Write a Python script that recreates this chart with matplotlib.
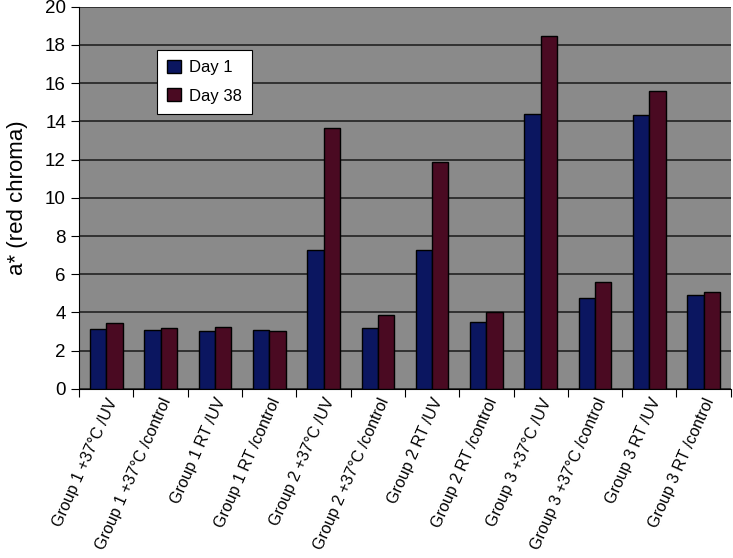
import matplotlib.pyplot as plt
import numpy as np
from matplotlib.ticker import MultipleLocator

# data
categories = ['Group 1 +37\u00b0C /UV', 'Group 1 +37\u00b0C /control', 'Group 1 RT /UV',
              'Group 1 RT /control', 'Group 2 +37\u00b0C /UV', 'Group 2 +37\u00b0C /control',
              'Group 2 RT /UV', 'Group 2 RT /control', 'Group 3 +37\u00b0C /UV',
              'Group 3 +37\u00b0C /control', 'Group 3 RT /UV', 'Group 3 RT /control']
day1 = [3.12, 3.1, 3.05, 3.1, 7.28, 3.2, 7.28, 3.52, 14.4, 4.78, 14.31, 4.94]
day38 = [3.44, 3.2, 3.26, 3.05, 13.65, 3.86, 11.88, 4.0, 18.48, 5.62, 15.57, 5.09]

plt.rcParams['font.family'] = ['Liberation Sans', 'DejaVu Sans']

fig = plt.figure(figsize=(7.33, 5.58), dpi=100)
ax = fig.add_axes([0.108, 0.303, 0.889, 0.685])
ax.set_facecolor('#8a8a8a')

x = np.arange(len(categories))
w = 0.3
ax.bar(x - w/2, day1, w, color='#0b1660', edgecolor='black', linewidth=1, label='Day 1', zorder=3)
ax.bar(x + w/2, day38, w, color='#4a0a22', edgecolor='black', linewidth=1, label='Day 38', zorder=3)

# y-axis
ax.set_ylim(0, 20)
ax.yaxis.set_major_locator(MultipleLocator(2))
ax.yaxis.grid(True, color='#222222', linewidth=1.2, zorder=0)
ax.set_axisbelow(True)
ax.set_ylabel('a* (red chroma)', fontsize=16, labelpad=12)

# x-axis: ticks at category boundaries, labels at centres
ax.set_xlim(-0.5, len(categories) - 0.5)
ax.set_xticks(np.arange(-0.5, len(categories) + 0.5, 1.0))
ax.set_xticklabels([])
ax.set_xticks(x, minor=True)
ax.set_xticklabels(categories, minor=True, rotation=66, ha='right', va='top',
                   rotation_mode='anchor', fontsize=11.5)
ax.tick_params(axis='x', which='minor', length=0, pad=5)
ax.tick_params(axis='x', which='major', length=6, direction='out')
ax.tick_params(axis='y', which='major', length=6, labelsize=13.5, direction='out')

for s in ['top', 'right']:
    ax.spines[s].set_visible(False)
ax.spines['left'].set_color('black')
ax.spines['bottom'].set_color('black')

leg = ax.legend(loc='upper left', bbox_to_anchor=(0.12, 0.887), borderaxespad=0,
                fontsize=12, fancybox=False, framealpha=1, edgecolor='black',
                handlelength=0.8, handleheight=0.8, handletextpad=0.5,
                labelspacing=0.8, borderpad=0.6)
leg.get_frame().set_linewidth(0.8)

plt.savefig('out.png', dpi=100)
